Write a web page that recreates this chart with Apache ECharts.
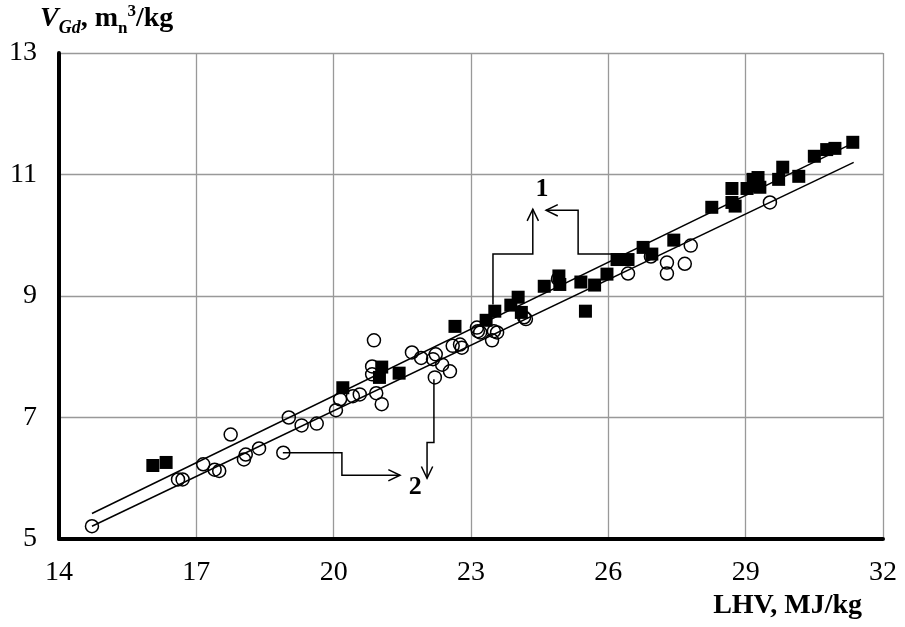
<!DOCTYPE html>
<html>
<head>
<meta charset="utf-8">
<script src="https://cdn.jsdelivr.net/npm/echarts@6/dist/echarts.min.js"></script>
<style>
  html, body { margin: 0; padding: 0; background: #fff; }
  #chart { width: 905px; height: 627px; }
</style>
</head>
<body>
<div id="chart"></div>
<script>
// series 1 - filled squares
const squareX = [16.05, 16.34, 20.2, 21.0, 21.05, 21.43, 22.65, 23.33, 23.52, 23.87, 24.03, 24.1, 24.6, 24.94, 24.92,
  25.4, 25.5, 25.7, 25.97, 26.19, 26.43, 26.76, 26.95, 27.43, 28.26, 28.7, 28.7, 28.77, 29.03, 29.16, 29.27, 29.31,
  29.2, 29.72, 29.81, 30.16, 30.5, 30.77, 30.95, 31.34]
const squareY = [6.21, 6.26, 7.49, 7.66, 7.83, 7.73, 8.5, 8.6, 8.75, 8.85, 8.98, 8.73, 9.16, 9.19, 9.33,
  9.23, 8.75, 9.18, 9.36, 9.6, 9.6, 9.8, 9.69, 9.92, 10.46, 10.77, 10.54, 10.48, 10.77, 10.92, 10.95, 10.79,
  10.82, 10.92, 11.12, 10.97, 11.3, 11.41, 11.43, 11.53]

// series 2 - open circles
const circleX = [14.72, 16.6, 16.7, 17.15, 17.4, 17.5, 17.75, 18.04, 18.08, 18.37, 18.9, 19.02, 19.3, 19.63, 20.05,
  20.14, 20.42, 20.57, 20.88, 20.84, 20.84, 20.93, 21.05, 21.71, 21.91, 22.17, 22.23, 22.37, 22.21, 22.54, 22.6,
  22.76, 22.8, 23.13, 23.15, 23.2, 23.46, 23.57, 23.5, 24.16, 24.2, 24.9, 26.43, 26.93, 27.28, 27.28, 27.67, 27.8, 29.53]
const circleY = [5.21, 5.98, 5.98, 6.23, 6.14, 6.12, 6.72, 6.31, 6.39, 6.49, 6.42, 7.0, 6.87, 6.9, 7.12,
  7.3, 7.35, 7.38, 8.27, 7.84, 7.71, 7.4, 7.22, 8.07, 7.98, 7.96, 8.04, 7.87, 7.66, 7.76, 8.18,
  8.2, 8.15, 8.48, 8.42, 8.4, 8.27, 8.4, 8.42, 8.65, 8.62, 9.28, 9.37, 9.65, 9.55, 9.37, 9.53, 9.83, 10.54]

// trend lines
const fit1X = [14.72, 31.38]
const fit1Y = [5.42, 11.53]
const fit2X = [14.72, 31.36]
const fit2Y = [5.21, 11.2]

// axes
const xTicks = { min: 14, max: 32, step: 3 }
const yTicks = { min: 5, max: 13, step: 2 }

// leader lines (data coords) and their labels
const leaderPaths = [
  [[23.48, 8.86], [23.48, 9.69], [24.35, 9.69], [24.35, 10.43]],
  [[26.43, 9.69], [25.34, 9.69], [25.34, 10.41], [24.64, 10.41]],
  [[18.89, 6.42], [20.18, 6.42], [20.18, 6.05], [21.45, 6.05]],
  [[22.19, 7.63], [22.19, 6.59], [22.04, 6.59], [22.04, 6.0]]
]
const leaderLabels = [[24.55, 10.76, '1'], [21.78, 5.85, '2']]

const FONT = 'Liberation Serif'
const chart = echarts.init(document.getElementById('chart'))

const zip = (xs, ys) => xs.map((x, i) => [x, ys[i]])

const option = {
  backgroundColor: '#fff',
  animation: false,
  grid: { left: 59, right: 22, top: 53, bottom: 88, containLabel: false, outerBoundsMode: 'none' },
  xAxis: {
    type: 'value', min: xTicks.min, max: xTicks.max, interval: xTicks.step,
    axisLine: { show: true, onZero: false, lineStyle: { color: '#000', width: 4 } },
    axisTick: { show: false },
    axisLabel: { color: '#000', fontFamily: FONT, fontSize: 28, margin: 20 },
    splitLine: { show: true, lineStyle: { color: '#999', width: 1.3 } }
  },
  yAxis: {
    type: 'value', min: yTicks.min, max: yTicks.max, interval: yTicks.step,
    axisLine: { show: true, onZero: false, lineStyle: { color: '#000', width: 4 } },
    axisTick: { show: false },
    axisLabel: { color: '#000', fontFamily: FONT, fontSize: 28, margin: 22 },
    splitLine: { show: true, lineStyle: { color: '#999', width: 1.3 } }
  },
  graphic: [
    {
      type: 'text', left: 40, top: 3,
      style: {
        text: '{v|V}{s|Gd}{b|, m}{n|n}{p|3}{b|/kg}',
        fill: '#000',
        rich: {
          v: { fontFamily: FONT, fontSize: 28, fontWeight: 'bold', fontStyle: 'italic', lineHeight: 30, verticalAlign: 'bottom' },
          s: { fontFamily: FONT, fontSize: 18, fontWeight: 'bold', fontStyle: 'italic', lineHeight: 18, verticalAlign: 'bottom', padding: [0, 0, -4, 0] },
          b: { fontFamily: FONT, fontSize: 28, fontWeight: 'bold', lineHeight: 30, verticalAlign: 'bottom' },
          n: { fontFamily: FONT, fontSize: 17, fontWeight: 'bold', lineHeight: 17, verticalAlign: 'bottom', padding: [0, 0, -4, 0] },
          p: { fontFamily: FONT, fontSize: 17, fontWeight: 'bold', lineHeight: 17, verticalAlign: 'top' }
        }
      }
    },
    {
      type: 'text', right: 43, top: 592,
      style: { text: 'LHV, MJ/kg', fill: '#000', fontFamily: FONT, fontSize: 28, fontWeight: 'bold' }
    }
  ],
  series: [
    {
      type: 'line', data: zip(fit1X, fit1Y), symbol: 'none', z: 4,
      lineStyle: { color: '#000', width: 1.5 }
    },
    {
      type: 'line', data: zip(fit2X, fit2Y), symbol: 'none', z: 4,
      lineStyle: { color: '#000', width: 1.5 }
    },
    {
      type: 'scatter', data: zip(circleX, circleY), symbol: 'circle', symbolSize: 13, z: 3,
      itemStyle: { color: 'rgba(255,255,255,0)', borderColor: '#000', borderWidth: 1.5, opacity: 1 }
    },
    {
      type: 'scatter', data: zip(squareX, squareY), symbol: 'rect', symbolSize: 13, z: 5,
      itemStyle: { color: '#000', opacity: 1 }
    },
    {
      // leader lines with open arrow heads
      type: 'custom', z: 6, silent: true,
      data: leaderPaths.map((p, i) => [i]),
      renderItem: function (params, api) {
        const pts = leaderPaths[params.dataIndex].map(p => api.coord(p))
        const tip = pts[pts.length - 1]
        const prev = pts[pts.length - 2]
        const ang = Math.atan2(tip[1] - prev[1], tip[0] - prev[0])
        const len = 13, spread = 0.45
        const a = [tip[0] - len * Math.cos(ang - spread), tip[1] - len * Math.sin(ang - spread)]
        const b = [tip[0] - len * Math.cos(ang + spread), tip[1] - len * Math.sin(ang + spread)]
        return {
          type: 'group',
          children: [
            { type: 'polyline', shape: { points: pts }, style: { stroke: '#000', fill: null, lineWidth: 1.5 } },
            { type: 'polyline', shape: { points: [a, tip, b] }, style: { stroke: '#000', fill: null, lineWidth: 1.5 } }
          ]
        }
      }
    },
    {
      type: 'scatter', symbolSize: 0, z: 6, silent: true,
      itemStyle: { opacity: 1 },
      data: leaderLabels.map(l => ({ value: [l[0], l[1]], name: l[2] })),
      label: {
        show: true, position: 'inside', formatter: '{b}',
        color: '#000', fontFamily: FONT, fontSize: 26, fontWeight: 'bold'
      }
    }
  ]
}

option && chart.setOption(option)
</script>
</body>
</html>
